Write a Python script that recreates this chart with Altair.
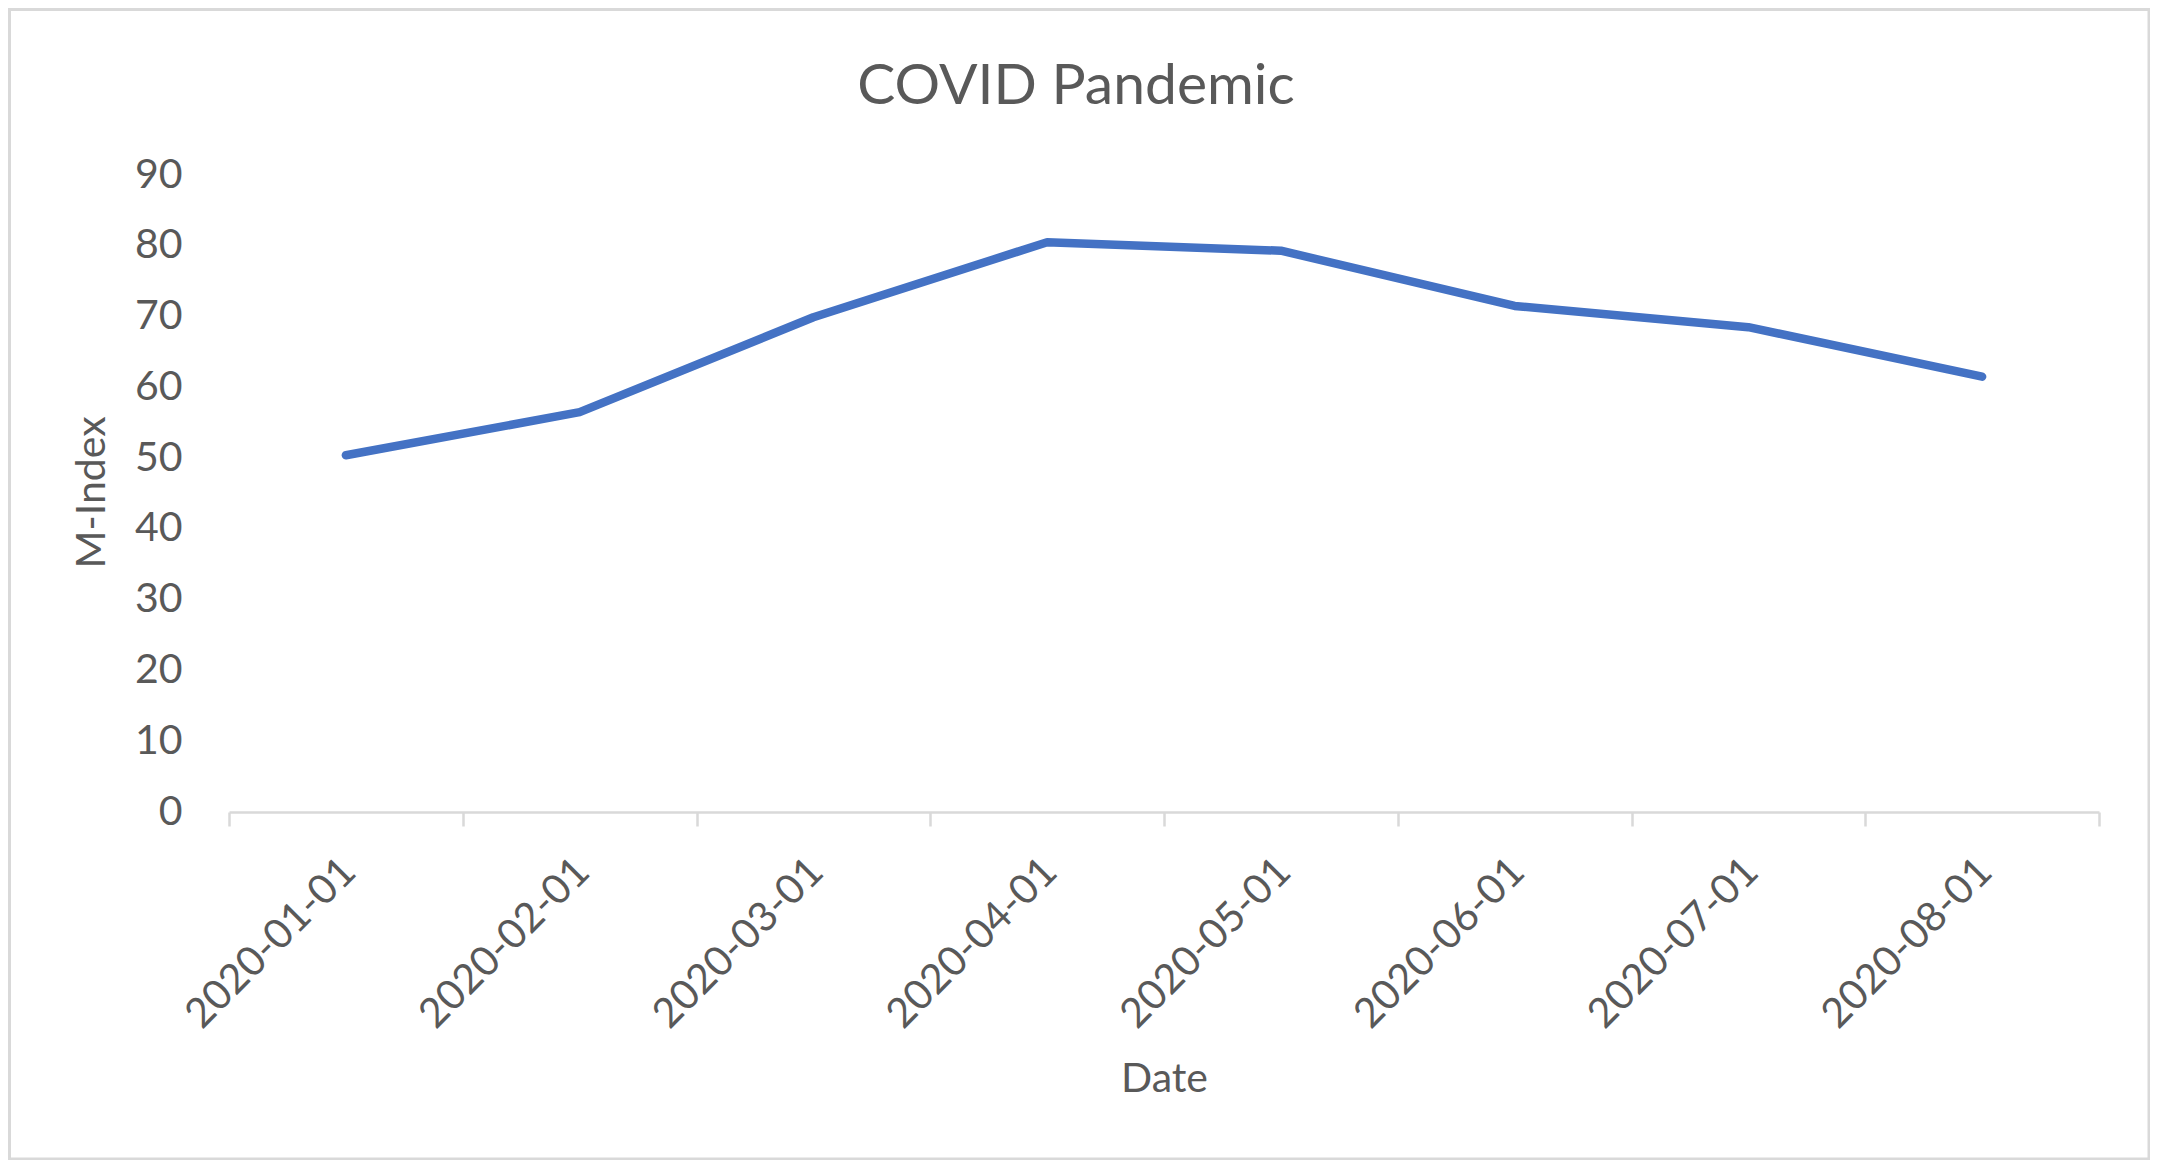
import altair as alt
import pandas as pd

dates = ["2020-01-01", "2020-02-01", "2020-03-01", "2020-04-01",
         "2020-05-01", "2020-06-01", "2020-07-01", "2020-08-01"]
m_index = [50.4, 56.5, 69.9, 80.5, 79.3, 71.5, 68.5, 61.5]
y_ticks = [0, 10, 20, 30, 40, 50, 60, 70, 80, 90]

df = pd.DataFrame({"Date": dates, "M-Index": m_index})

TEXT = "#595959"
GRAY = "#D9D9D9"
FONT = "Lato"

line = alt.Chart(df).mark_line(
    color="#4472C4", strokeWidth=8.5, strokeCap="round", strokeJoin="round"
).encode(
    x=alt.X("Date:N", sort=None, bandPosition=0.5,
            scale=alt.Scale(type="band", paddingInner=0, paddingOuter=0),
            axis=alt.Axis(
                title="Date", labelAngle=315, labelAlign="right", labelBaseline="top",
                labelFont=FONT, labelFontSize=41, labelColor=TEXT, labelLimit=0,
                labelPadding=25, labelOffset=-11, labelOverlap=False,
                tickBand="extent", ticks=True, tickSize=14, tickColor=GRAY, tickWidth=2.5,
                domain=True, domainColor=GRAY, domainWidth=2.5, grid=False,
                titleFont=FONT, titleFontSize=41, titleFontWeight="normal", titleColor=TEXT,
                titleX=935, titleY=279, titleBaseline="alphabetic", titleAlign="center")),
    y=alt.Y("M-Index:Q",
            scale=alt.Scale(domain=[0, 90], nice=False, zero=True),
            axis=alt.Axis(
                title="M-Index", values=y_ticks, domain=False, ticks=False, grid=False,
                labelFont=FONT, labelFontSize=41, labelColor=TEXT, labelPadding=47,
                titleFont=FONT, titleFontSize=41, titleFontWeight="normal", titleColor=TEXT,
                titleAngle=270, titleX=-125, titleY=317, titleBaseline="alphabetic",
                titleAlign="center")),
)

border = alt.Chart(pd.DataFrame({"k": [0]})).mark_rect(
    fill=None, stroke=GRAY, strokeWidth=3
).encode(
    x=alt.value(-219.5), x2=alt.value(1920),
    y=alt.value(-165.5), y2=alt.value(984),
)

chart = alt.layer(border, line).properties(
    width=1870, height=637,
    title=alt.TitleParams(text="COVID Pandemic", font=FONT, fontSize=57,
                          fontWeight="normal", color=TEXT, anchor="middle",
                          frame="group", dx=-88, dy=153, baseline="alphabetic", offset=0),
    autosize=alt.AutoSizeParams(type="none"),
    padding={"left": 221, "top": 167, "right": 51, "bottom": 348},
    background="white",
).configure_view(stroke=None)

chart.save("out.html", embed_options={"renderer": "svg", "actions": False})
